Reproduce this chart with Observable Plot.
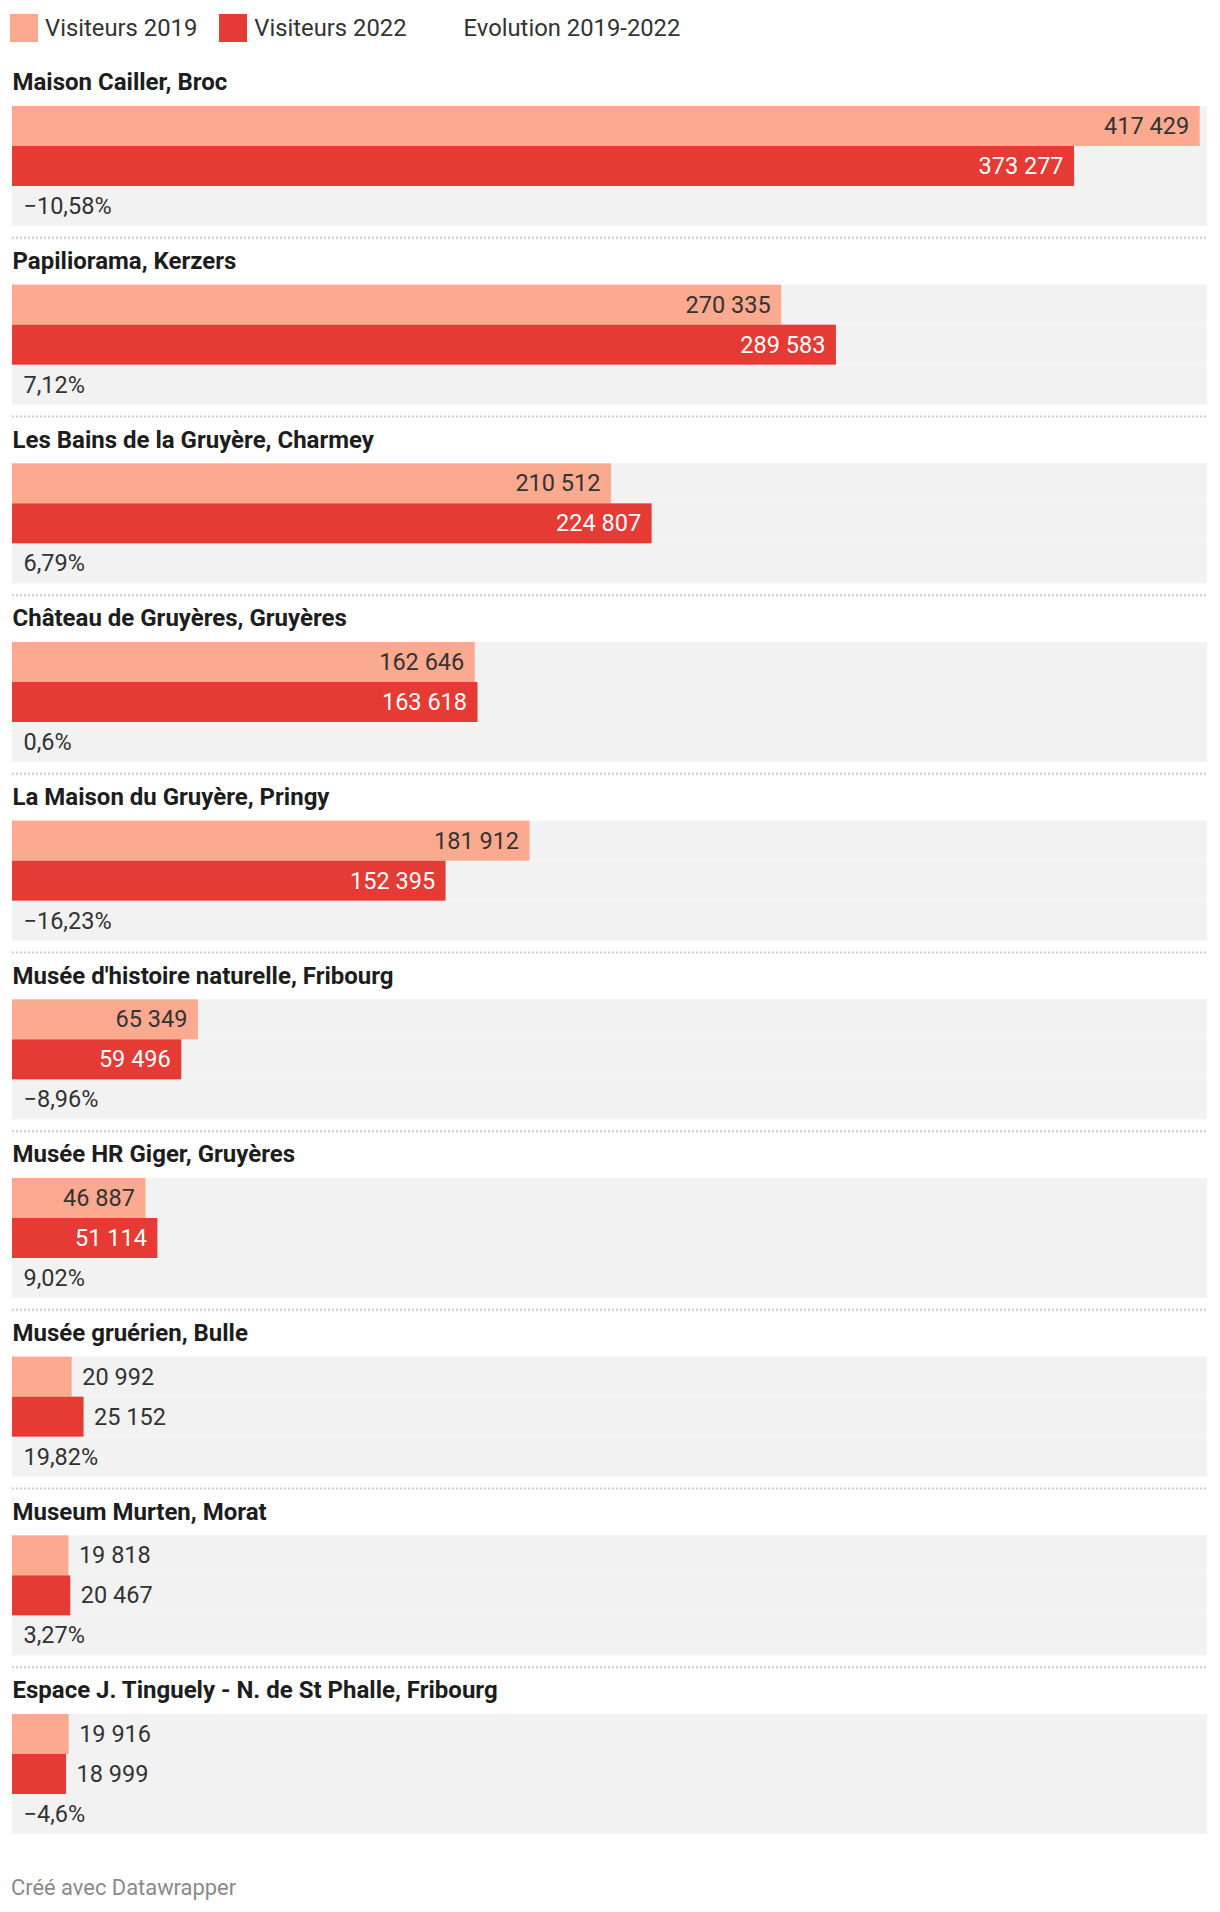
<!DOCTYPE html>
<html>
<head>
<meta charset="utf-8">
<script src="https://cdn.jsdelivr.net/npm/d3@7"></script>
<script src="https://cdn.jsdelivr.net/npm/@observablehq/plot@0.6"></script>
<style>
  html, body { margin: 0; padding: 0; background: #fff; }
  body { width: 1220px; height: 1912px; position: relative; font-family: Roboto, sans-serif; }
  #legend { position: absolute; left: 10px; top: 14px; height: 28px; display: flex; align-items: center; font-size: 23.8px; color: #333; line-height: 28px; }
  .item { display: flex; align-items: center; margin-right: 22px; }
  .sw { width: 28px; height: 28px; margin-right: 7px; }
  #chart { position: absolute; left: 0; top: 50px; }
  #footer { position: absolute; left: 11px; top: 1877px; font-size: 21.9px; line-height: 1; color: #8a8a8a; }
</style>
</head>
<body>
<div id="legend"></div>
<div id="chart"></div>
<div id="footer">Créé avec Datawrapper</div>
<script>
const museums = [
  "Maison Cailler, Broc",
  "Papiliorama, Kerzers",
  "Les Bains de la Gruyère, Charmey",
  "Château de Gruyères, Gruyères",
  "La Maison du Gruyère, Pringy",
  "Musée d'histoire naturelle, Fribourg",
  "Musée HR Giger, Gruyères",
  "Musée gruérien, Bulle",
  "Museum Murten, Morat",
  "Espace J. Tinguely - N. de St Phalle, Fribourg"
];
const visitors2019 = [417429, 270335, 210512, 162646, 181912, 65349, 46887, 20992, 19818, 19916];
const visitors2022 = [373277, 289583, 224807, 163618, 152395, 59496, 51114, 25152, 20467, 18999];
const evolution = [-10.58, 7.12, 6.79, 0.6, -16.23, -8.96, 9.02, 19.82, 3.27, -4.6];
const seriesNames = ["Visiteurs 2019", "Visiteurs 2022", "Evolution 2019-2022"];
const seriesKeys = ["2019", "2022"];
const colors = ["#fba98f", "#e63a34"];
const xMax = 420000;
const insideMin = 35000;

const loc = d3.formatLocale({decimal: ",", thousands: " ", grouping: [3], currency: ["", ""], minus: "\u2212"});
const fmtN = loc.format(",d");
const fmtP = v => loc.format(".2~f")(v) + "%";

// legend
const legend = document.getElementById("legend");
seriesNames.forEach((name, i) => {
  const it = document.createElement("div");
  it.className = "item";
  const sw = document.createElement("div");
  sw.className = "sw";
  sw.style.background = i < colors.length ? colors[i] : "transparent";
  const tx = document.createElement("span");
  tx.textContent = name;
  it.appendChild(sw); it.appendChild(tx);
  legend.appendChild(it);
});

const bgRows = museums.flatMap(m => ["2019", "2022", "evo"].map(r => ({museum: m, row: r})));
const bars = museums.flatMap((m, i) => [
  {museum: m, year: seriesKeys[0], value: visitors2019[i]},
  {museum: m, year: seriesKeys[1], value: visitors2022[i]}
]);
const evoRows = museums.map((m, i) => ({museum: m, row: "evo", label: fmtP(evolution[i])}));
const titleRows = museums.map(m => ({museum: m, row: "title"}));
const ruleRows = museums.slice(0, -1).map(m => ({museum: m, row: "evo"}));

const chart = Plot.plot({
  width: 1220,
  height: 1800,
  marginTop: 8.67,
  marginBottom: 4.66,
  marginLeft: 12,
  marginRight: 13,
  style: {fontFamily: "Roboto, sans-serif", fontSize: "23.5px", background: "transparent", overflow: "visible"},
  x: {domain: [0, xMax], axis: null},
  y: {domain: ["title", "2019", "2022", "evo"], paddingInner: 0, paddingOuter: 0.2333, align: 0.393, round: false, axis: null},
  fy: {domain: museums, paddingInner: 0, paddingOuter: 0, round: false, axis: null, label: null},
  color: {domain: seriesKeys, range: colors},
  marks: [
    Plot.barX(bgRows, {x1: 0, x2: xMax, y: "row", fy: "museum", fill: "#f2f2f2"}),
    Plot.barX(bars, {x1: 0, x2: "value", y: "year", fy: "museum", fill: "year"}),
    Plot.text(bars.filter(d => d.value >= insideMin && d.year === "2019"), {x: "value", y: "year", fy: "museum", text: d => fmtN(d.value), textAnchor: "end", dx: -11, fill: "#333"}),
    Plot.text(bars.filter(d => d.value >= insideMin && d.year === "2022"), {x: "value", y: "year", fy: "museum", text: d => fmtN(d.value), textAnchor: "end", dx: -11, fill: "#ffffff"}),
    Plot.text(bars.filter(d => d.value < insideMin), {x: "value", y: "year", fy: "museum", text: d => fmtN(d.value), textAnchor: "start", dx: 10, fill: "#333"}),
    Plot.text(evoRows, {x: 0, y: "row", fy: "museum", text: "label", textAnchor: "start", dx: 11, fill: "#333"}),
    Plot.text(titleRows, {x: 0, y: "row", fy: "museum", text: "museum", textAnchor: "start", dy: -4, fontWeight: "bold", fontSize: 24, fill: "#1d1d1d"}),
    Plot.ruleY(ruleRows, {y: "row", fy: "museum", stroke: "#cfcfcf", strokeWidth: 2, strokeDasharray: "2,2", dy: 31.3})
  ]
});
document.getElementById("chart").appendChild(chart);
</script>
</body>
</html>
